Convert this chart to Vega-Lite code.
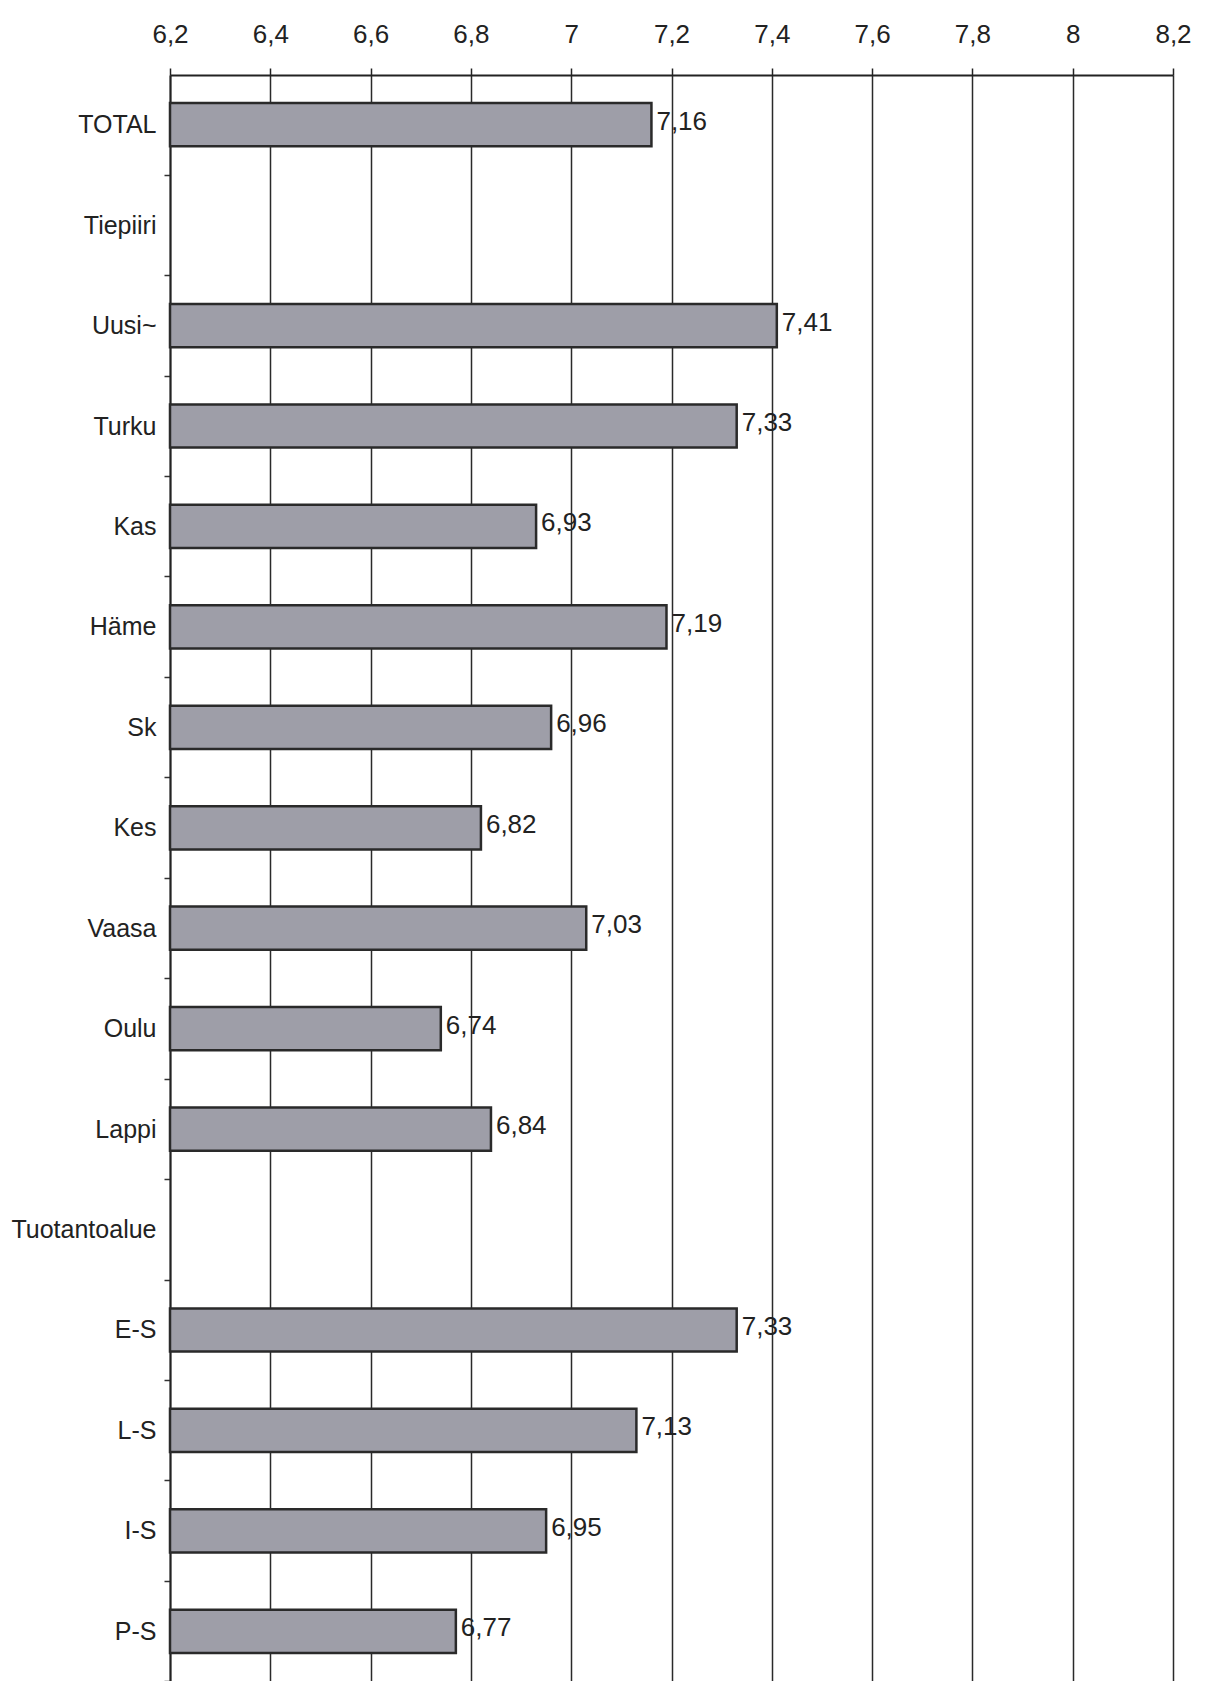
{
  "$schema": "https://vega.github.io/schema/vega-lite/v6.json",
  "autosize": {"type": "none"},
  "padding": {"left": 170, "top": 75, "right": 39, "bottom": 0},
  "width": 1003,
  "height": 1606,
  "background": "#ffffff",
  "config": {
    "locale": {"number": {"decimal": ",", "thousands": " ", "grouping": [3], "currency": ["", " €"]}},
    "font": "Liberation Sans",
    "view": {"stroke": null}
  },
  "data": {
    "values": [
      {"category": "TOTAL", "value": 7.16},
      {"category": "Tiepiiri", "value": null},
      {"category": "Uusi~", "value": 7.41},
      {"category": "Turku", "value": 7.33},
      {"category": "Kas", "value": 6.93},
      {"category": "Häme", "value": 7.19},
      {"category": "Sk", "value": 6.96},
      {"category": "Kes", "value": 6.82},
      {"category": "Vaasa", "value": 7.03},
      {"category": "Oulu", "value": 6.74},
      {"category": "Lappi", "value": 6.84},
      {"category": "Tuotantoalue", "value": null},
      {"category": "E-S", "value": 7.33},
      {"category": "L-S", "value": 7.13},
      {"category": "I-S", "value": 6.95},
      {"category": "P-S", "value": 6.77}
    ]
  },
  "encoding": {
    "y": {
      "field": "category",
      "type": "nominal",
      "sort": null,
      "scale": {
        "domain": ["TOTAL", "Tiepiiri", "Uusi~", "Turku", "Kas", "Häme", "Sk", "Kes", "Vaasa", "Oulu", "Lappi", "Tuotantoalue", "E-S", "L-S", "I-S", "P-S"],
        "paddingInner": 0.57,
        "paddingOuter": 0.28
      },
      "axis": {
        "title": null,
        "labelFontSize": 25,
        "labelColor": "#222222",
        "labelPadding": 8,
        "tickSize": 6,
        "tickOffset": 50,
        "labelOffset": -50,
        "tickColor": "#333333",
        "tickWidth": 1.5,
        "domainColor": "#222222",
        "domainWidth": 2,
        "grid": false
      }
    }
  },
  "layer": [
    {
      "mark": {"type": "bar", "fill": "#9e9ea8", "stroke": "#2a2a2a", "strokeWidth": 2.5},
      "encoding": {
        "x": {
          "field": "value",
          "type": "quantitative",
          "scale": {"domain": [6.2, 8.2], "zero": false, "nice": false},
          "axis": {
            "orient": "top",
            "title": null,
            "values": [6.2, 6.4, 6.6, 6.8, 7.0, 7.2, 7.4, 7.6, 7.8, 8.0, 8.2],
            "format": ".1~f",
            "labelFontSize": 26,
            "labelColor": "#222222",
            "labelPadding": 21,
            "tickSize": 7,
            "tickColor": "#222222",
            "tickWidth": 1.5,
            "domainColor": "#222222",
            "domainWidth": 2,
            "grid": true,
            "gridColor": "#2a2a2a",
            "gridWidth": 1.5,
            "gridOpacity": 1,
            "labelFlush": false
          }
        },
        "x2": {"datum": 6.2}
      }
    },
    {
      "mark": {"type": "text", "align": "left", "baseline": "middle", "dx": 5, "dy": -3, "fontSize": 26, "color": "#222222"},
      "encoding": {
        "x": {"field": "value", "type": "quantitative"},
        "text": {"field": "value", "type": "quantitative", "format": ".2f"}
      }
    }
  ]
}
